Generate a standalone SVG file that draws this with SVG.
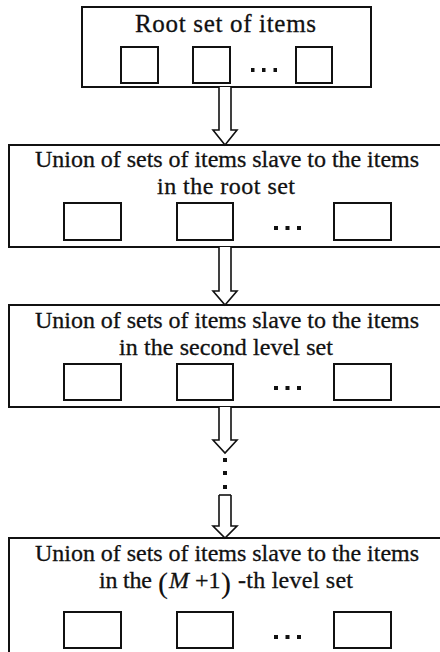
<svg xmlns="http://www.w3.org/2000/svg" width="440" height="652" viewBox="0 0 440 652">
  <style>
    .frame { fill: #fff; stroke: #111; stroke-width: 2; }
    .item { fill: #fff; stroke: #111; stroke-width: 2; }
    .lbl { font-family: "Liberation Serif", "Times New Roman", serif; font-size: 24px; fill: #111; stroke: #111; stroke-width: 0.3px; }
    .big { font-size: 30px; stroke-width: 0.1px; }
    .arrow { fill: #fff; stroke: #111; stroke-width: 1.6; stroke-linejoin: miter; }
    .dot { fill: #111; }
  </style>
  <rect width="440" height="652" fill="#fff"/>

  <!-- root level -->
  <g id="root-set">
    <rect class="frame" x="82" y="7" width="289" height="80"/>
    <text class="lbl" x="135" y="32" style="font-size:25px" textLength="181">Root set of items</text>
    <rect class="item" x="121" y="47" width="37" height="36"/>
    <rect class="item" x="193" y="47" width="37" height="36"/>
    <rect class="item" x="296" y="47" width="36" height="36"/>
    <rect class="dot" x="251" y="68" width="3.5" height="4"/>
    <rect class="dot" x="262" y="68" width="3.5" height="4"/>
    <rect class="dot" x="273.5" y="68" width="3.5" height="4"/>
  </g>

  <!-- second level -->
  <g id="level-2">
    <rect class="frame" x="9" y="145" width="440" height="102"/>
    <text class="lbl" x="35" y="167" textLength="384">Union of sets of items slave to the items</text>
    <text class="lbl" x="157" y="194" textLength="138">in the root set</text>
    <rect class="item" x="64" y="203" width="57" height="37"/>
    <rect class="item" x="177" y="203" width="56" height="37"/>
    <rect class="item" x="334" y="203" width="57" height="37"/>
    <rect class="dot" x="274" y="226" width="4" height="4"/>
    <rect class="dot" x="285.5" y="226" width="4" height="4"/>
    <rect class="dot" x="297" y="226" width="4" height="4"/>
  </g>

  <!-- third level -->
  <g id="level-3">
    <rect class="frame" x="9" y="305" width="440" height="102"/>
    <text class="lbl" x="35" y="328" textLength="384">Union of sets of items slave to the items</text>
    <text class="lbl" x="119" y="355" textLength="214">in the second level set</text>
    <rect class="item" x="64" y="364" width="57" height="36"/>
    <rect class="item" x="177" y="364" width="56" height="36"/>
    <rect class="item" x="334" y="364" width="57" height="36"/>
    <rect class="dot" x="274" y="386" width="4" height="4"/>
    <rect class="dot" x="285.5" y="386" width="4" height="4"/>
    <rect class="dot" x="297" y="386" width="4" height="4"/>
  </g>

  <!-- (M+1)-th level -->
  <g id="level-m1">
    <rect class="frame" x="9" y="538" width="440" height="130"/>
    <text class="lbl" x="35" y="561" textLength="384">Union of sets of items slave to the items</text>
    <text class="lbl" x="99" y="588" textLength="53">in the</text>
    <text class="lbl big" x="158" y="593">(</text>
    <text class="lbl" x="169" y="588" font-style="italic">M</text>
    <text class="lbl" x="195" y="588">+1</text>
    <text class="lbl big" x="221" y="593">)</text>
    <text class="lbl" x="238" y="588" textLength="115">-th level set</text>
    <rect class="item" x="64" y="612" width="57" height="36"/>
    <rect class="item" x="177" y="612" width="56" height="36"/>
    <rect class="item" x="334" y="612" width="57" height="36"/>
    <rect class="dot" x="274" y="635" width="4" height="4"/>
    <rect class="dot" x="285.5" y="635" width="4" height="4"/>
    <rect class="dot" x="297" y="635" width="4" height="4"/>
  </g>

  <!-- hollow block arrows between levels -->
  <g id="connectors">
    <polyline class="arrow" points="219,87 219,130 213,130 225,145 237,130 231,130 231,87"/>
    <polyline class="arrow" points="219,247 219,291 213,291 225,305 237,291 231,291 231,247"/>
    <polyline class="arrow" points="219,407 219,440 213,440 225,453 237,440 231,440 231,407"/>
    <polyline class="arrow" points="219,495 219,526 213,526 225,538 237,526 231,526 231,495"/>
    <line x1="219" y1="495" x2="231" y2="495" stroke="#111" stroke-width="1.6"/>
    <rect class="dot" x="223" y="458" width="4" height="4"/>
    <rect class="dot" x="223" y="471" width="4" height="4"/>
    <rect class="dot" x="223" y="485" width="4" height="4"/>
  </g>
</svg>
